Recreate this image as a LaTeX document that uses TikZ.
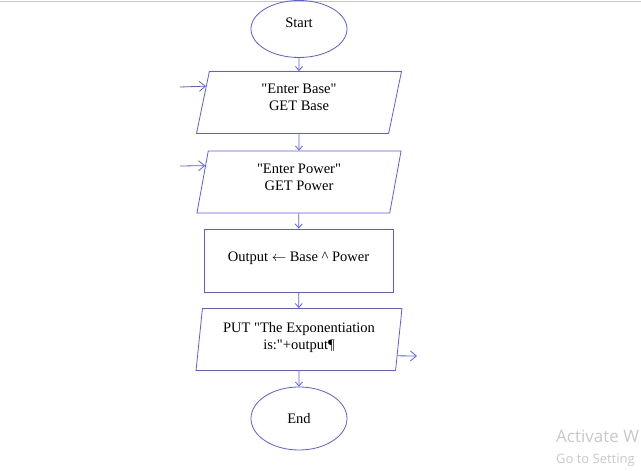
\documentclass[tikz,border=0pt]{standalone}
\usepackage{fontspec}
\setmainfont{Liberation Serif}[Ligatures=TeXOff]
\newfontfamily\uifont{Open Sans}
\usetikzlibrary{shapes.geometric,arrows.meta,calc}
\definecolor{flowblue}{RGB}{90,90,250}
\definecolor{wmgrey}{RGB}{200,200,200}
\tikzset{
  base/.style={draw=flowblue,line width=0.8pt,font=\fontsize{14.5}{17}\selectfont,align=center,text=black,inner sep=0pt},
  term/.style={base,ellipse,minimum width=96pt,minimum height=57pt},
  io/.style={base,trapezium,trapezium left angle=81.6,trapezium right angle=98.4,trapezium stretches=true,minimum width=206pt,minimum height=62pt},
  proc/.style={base,rectangle,minimum width=189pt,minimum height=63pt},
  conn/.style={draw=flowblue,line width=0.8pt,-{Straight Barb[length=4pt,width=7pt]}},
  ext/.style={draw=flowblue,line width=0.8pt,-{Straight Barb[length=6pt,width=10pt]}},
}
\begin{document}
\begin{tikzpicture}[x=1pt,y=1pt]
\useasboundingbox (0,0) rectangle (641,471);
\begin{scope}
\clip (0,0) rectangle (641,471);
\draw[wmgrey,line width=0.8pt] (0,469.5) -- (641,469.5);
\node[term,text depth=12pt] (start) at (299,442) {Start};
\node[term,minimum height=63pt] (end) at (299,52.5) {End};
\node[io,text depth=10pt] (in1) at (299,368.5) {"Enter Base"\\GET Base};
\node[io,text depth=9pt] (in2) at (299,289) {"Enter Power"\\GET Power};
\node[proc,text depth=7pt] (calc) at (298.5,210.5) {Output $\leftarrow$ Base \^{} Power};
\node[io,text depth=7pt] (out) at (299,131.5) {PUT "The Exponentiation\\is:"+output¶};
\draw[conn] (start) -- (in1);
\draw[conn] (in1) -- (in2);
\draw[conn] (in2) -- (calc);
\draw[conn] (calc) -- (out);
\draw[conn] (out) -- (end);
\coordinate (e1) at (180,384);
\coordinate (e2) at (180,305);
\coordinate (x1) at (417,115);
\draw[ext] (e1) -- ($(in1.top left corner)!0.24!(in1.bottom left corner)$);
\draw[ext] (e2) -- ($(in2.top left corner)!0.24!(in2.bottom left corner)$);
\draw[ext] ($(out.top right corner)!0.76!(out.bottom right corner)$) -- (x1);
\node[anchor=base west,text=wmgrey,font=\uifont\fontsize{17}{19}\selectfont,inner sep=0pt] (wm1) at (556,28) {Activate W};
\node[anchor=base west,text=wmgrey,font=\uifont\fontsize{13}{15}\selectfont,inner sep=0pt] (wm2) at (556,7) {Go to Setting};
\end{scope}
\end{tikzpicture}
\end{document}
